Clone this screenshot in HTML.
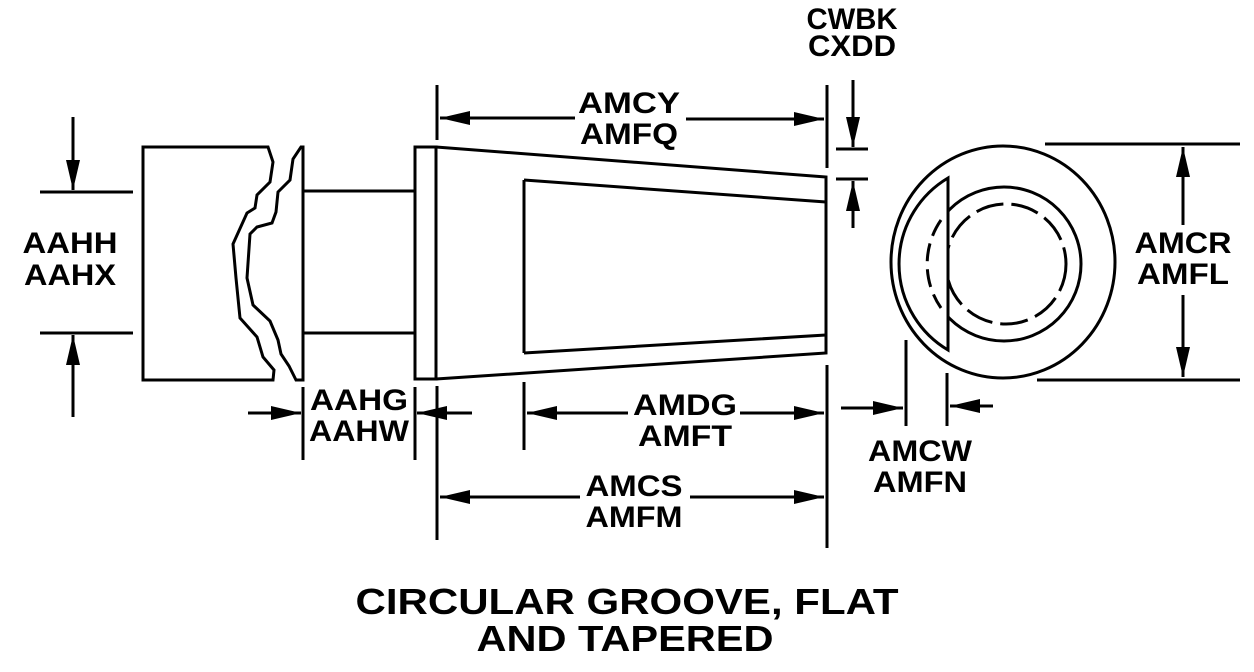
<!DOCTYPE html>
<html><head><style>
html,body{margin:0;padding:0;background:#fff;}
svg{display:block;}
text{font-family:"Liberation Sans",Arial,sans-serif;font-weight:bold;font-size:30px;fill:#000;text-anchor:middle;}
</style></head><body>
<svg width="1254" height="672" viewBox="0 0 1254 672" xmlns="http://www.w3.org/2000/svg">
<defs>
<marker id="a" viewBox="0 0 30 14" refX="30" refY="7" markerWidth="30" markerHeight="14" markerUnits="userSpaceOnUse" orient="auto"><path d="M0,0 L30,7 L0,14 Z" fill="#000"/></marker>
</defs>
<g stroke="#000" stroke-width="3" fill="none">
<path d="M273,380 L143,380 L143,147 L268,147 L273,162 L270,182 L257,195 L255,208 L247,213 L233,244 L236,278 L240,318 L257,337 L263,357 L274,370 Z"/>
<path d="M296,380 L289,366 L281,354 L278,340 L270,321 L253,305 L247,278 L250,234 L257,227 L272,223 L276,212 L278,192 L290,180 L293,159 L301,147 L303,147 L303,380 Z"/>
<line x1="303" y1="191" x2="415" y2="191"/>
<line x1="303" y1="333" x2="415" y2="333"/>
<rect x="415" y="147" width="21" height="232"/>
<path d="M436,147 L826,177 L826,353 L436,379"/>
<path d="M524,180 L826,202 M524,353 L826,335 M524,180 L524,353"/>
<ellipse cx="1003" cy="262" rx="112" ry="116"/>
<circle cx="1004" cy="264" r="77"/>
<circle cx="1006" cy="264" r="60" stroke-dasharray="28,8"/>
<path d="M948,178 A100,100 0 0 0 948,350 Z" fill="#fff"/>
<path d="M941,220 A77,77 0 0 0 941,308" stroke-dasharray="18,8"/>
<line x1="40" y1="192" x2="133" y2="192"/>
<line x1="40" y1="333" x2="133" y2="333"/>
<line x1="73" y1="117" x2="73" y2="190" marker-end="url(#a)"/>
<line x1="73" y1="417" x2="73" y2="335" marker-end="url(#a)"/>
<line x1="303" y1="387" x2="303" y2="460"/>
<line x1="415" y1="387" x2="415" y2="460"/>
<line x1="248" y1="413" x2="301" y2="413" marker-end="url(#a)"/>
<line x1="472" y1="413" x2="417" y2="413" marker-end="url(#a)"/>
<line x1="437" y1="85" x2="437" y2="140"/>
<line x1="437" y1="386" x2="437" y2="540"/>
<line x1="827" y1="85" x2="827" y2="168"/>
<line x1="827" y1="365" x2="827" y2="548"/>
<line x1="575" y1="118" x2="440" y2="118" marker-end="url(#a)"/>
<line x1="686" y1="119" x2="824" y2="119" marker-end="url(#a)"/>
<line x1="836" y1="149" x2="868" y2="149"/>
<line x1="836" y1="179" x2="868" y2="179"/>
<line x1="853" y1="80" x2="853" y2="147" marker-end="url(#a)"/>
<line x1="853" y1="228" x2="853" y2="181" marker-end="url(#a)"/>
<line x1="524" y1="382" x2="524" y2="450"/>
<line x1="628" y1="413" x2="527" y2="413" marker-end="url(#a)"/>
<line x1="740" y1="413" x2="824" y2="413" marker-end="url(#a)"/>
<line x1="580" y1="497" x2="440" y2="497" marker-end="url(#a)"/>
<line x1="690" y1="497" x2="824" y2="497" marker-end="url(#a)"/>
<line x1="906" y1="340" x2="906" y2="426"/>
<line x1="947" y1="373" x2="947" y2="426"/>
<line x1="841" y1="408" x2="903" y2="408" marker-end="url(#a)"/>
<line x1="993" y1="406" x2="950" y2="406" marker-end="url(#a)"/>
<line x1="1045" y1="144" x2="1240" y2="144"/>
<line x1="1037" y1="380" x2="1240" y2="380"/>
<line x1="1183" y1="225" x2="1183" y2="147" marker-end="url(#a)"/>
<line x1="1183" y1="295" x2="1183" y2="377" marker-end="url(#a)"/>
</g>
<g lengthAdjust="spacingAndGlyphs">
<text x="70" y="253" textLength="95" lengthAdjust="spacingAndGlyphs">AAHH</text>
<text x="70" y="285" textLength="92" lengthAdjust="spacingAndGlyphs">AAHX</text>
<text x="359" y="410" textLength="98" lengthAdjust="spacingAndGlyphs">AAHG</text>
<text x="359" y="441" textLength="100" lengthAdjust="spacingAndGlyphs">AAHW</text>
<text x="629" y="113" textLength="102" lengthAdjust="spacingAndGlyphs">AMCY</text>
<text x="629" y="144" textLength="98" lengthAdjust="spacingAndGlyphs">AMFQ</text>
<text x="852" y="29" textLength="91" lengthAdjust="spacingAndGlyphs">CWBK</text>
<text x="852" y="56" textLength="88" lengthAdjust="spacingAndGlyphs">CXDD</text>
<text x="685" y="415" textLength="104" lengthAdjust="spacingAndGlyphs">AMDG</text>
<text x="685" y="446" textLength="94" lengthAdjust="spacingAndGlyphs">AMFT</text>
<text x="634" y="496" textLength="97" lengthAdjust="spacingAndGlyphs">AMCS</text>
<text x="634" y="527" textLength="97" lengthAdjust="spacingAndGlyphs">AMFM</text>
<text x="920" y="461" textLength="104" lengthAdjust="spacingAndGlyphs">AMCW</text>
<text x="920" y="492" textLength="94" lengthAdjust="spacingAndGlyphs">AMFN</text>
<text x="1183" y="253" textLength="97" lengthAdjust="spacingAndGlyphs">AMCR</text>
<text x="1183" y="284" textLength="92" lengthAdjust="spacingAndGlyphs">AMFL</text>
<text x="627" y="614" style="font-size:36px" textLength="543" lengthAdjust="spacingAndGlyphs">CIRCULAR GROOVE, FLAT</text>
<text x="625" y="651" style="font-size:36px" textLength="297" lengthAdjust="spacingAndGlyphs">AND TAPERED</text>
</g>
</svg>
</body></html>
